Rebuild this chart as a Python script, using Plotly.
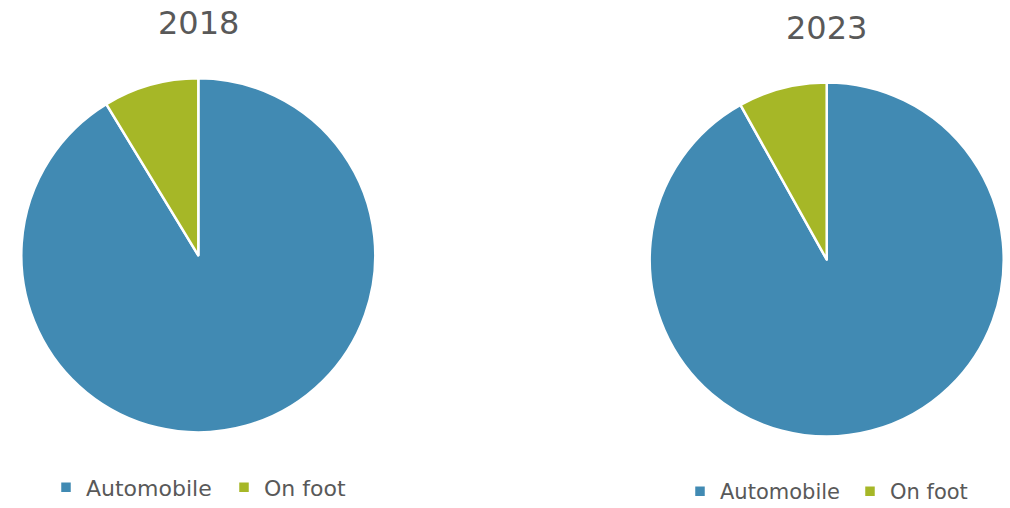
import plotly.graph_objects as go

labels = ["Automobile", "On foot"]
values_2018 = [91.3, 8.7]
values_2023 = [91.9, 8.1]
titles = ["2018", "2023"]
colors = ["#418AB3", "#A6B727"]

W, H = 1010, 508
FONT = "'DejaVu Sans', sans-serif"
GREY = "#595959"

def px_x(a, b):
    return [a / W, b / W]

def px_y(top, bottom):
    return [1 - bottom / H, 1 - top / H]

# second pie's labels carry a zero-width space so that it gets its own legend entries
labels_2023 = [l + "\u200b" for l in labels]

fig = go.Figure()
fig.add_trace(go.Pie(
    labels=labels, values=values_2018, sort=False, direction="clockwise", rotation=0,
    marker=dict(colors=colors, line=dict(color="white", width=2.5)),
    textinfo="none", hoverinfo="label+percent",
    domain=dict(x=px_x(21.3, 375.3), y=px_y(78.3, 432.3)), legend="legend",
))
fig.add_trace(go.Pie(
    labels=labels_2023, values=values_2023, sort=False, direction="clockwise", rotation=0,
    marker=dict(colors=colors, line=dict(color="white", width=2.5)),
    textinfo="none", hoverinfo="label+percent",
    domain=dict(x=px_x(649.7, 1003.7), y=px_y(82.5, 436.5)), legend="legend2",
))

fig.add_annotation(text=titles[0], x=198.5 / W, y=1 - 22.8 / H, xref="paper", yref="paper",
                   xanchor="center", yanchor="middle",
                   showarrow=False, font=dict(size=32, color=GREY, family=FONT))
fig.add_annotation(text=titles[1], x=826 / W, y=1 - 28.3 / H, xref="paper", yref="paper",
                   xanchor="center", yanchor="middle",
                   showarrow=False, font=dict(size=32, color=GREY, family=FONT))

legend_common = dict(orientation="h", bgcolor="rgba(0,0,0,0)", xanchor="left",
                     yanchor="middle", itemclick=False, itemdoubleclick=False)
fig.update_layout(
    width=W, height=H,
    margin=dict(l=0, r=0, t=0, b=0, autoexpand=False),
    paper_bgcolor="white", plot_bgcolor="white",
    showlegend=True,
    legend=dict(x=46 / W, y=1 - 487.4 / H, entrywidth=133,
                font=dict(size=22, color=GREY, family=FONT), **legend_common),
    legend2=dict(x=680 / W, y=1 - 491.5 / H, entrywidth=125,
                 font=dict(size=21, color=GREY, family=FONT), **legend_common),
)

fig.write_html("out.html", config={"displayModeBar": False},
               post_script="document.body.style.margin='0';")
